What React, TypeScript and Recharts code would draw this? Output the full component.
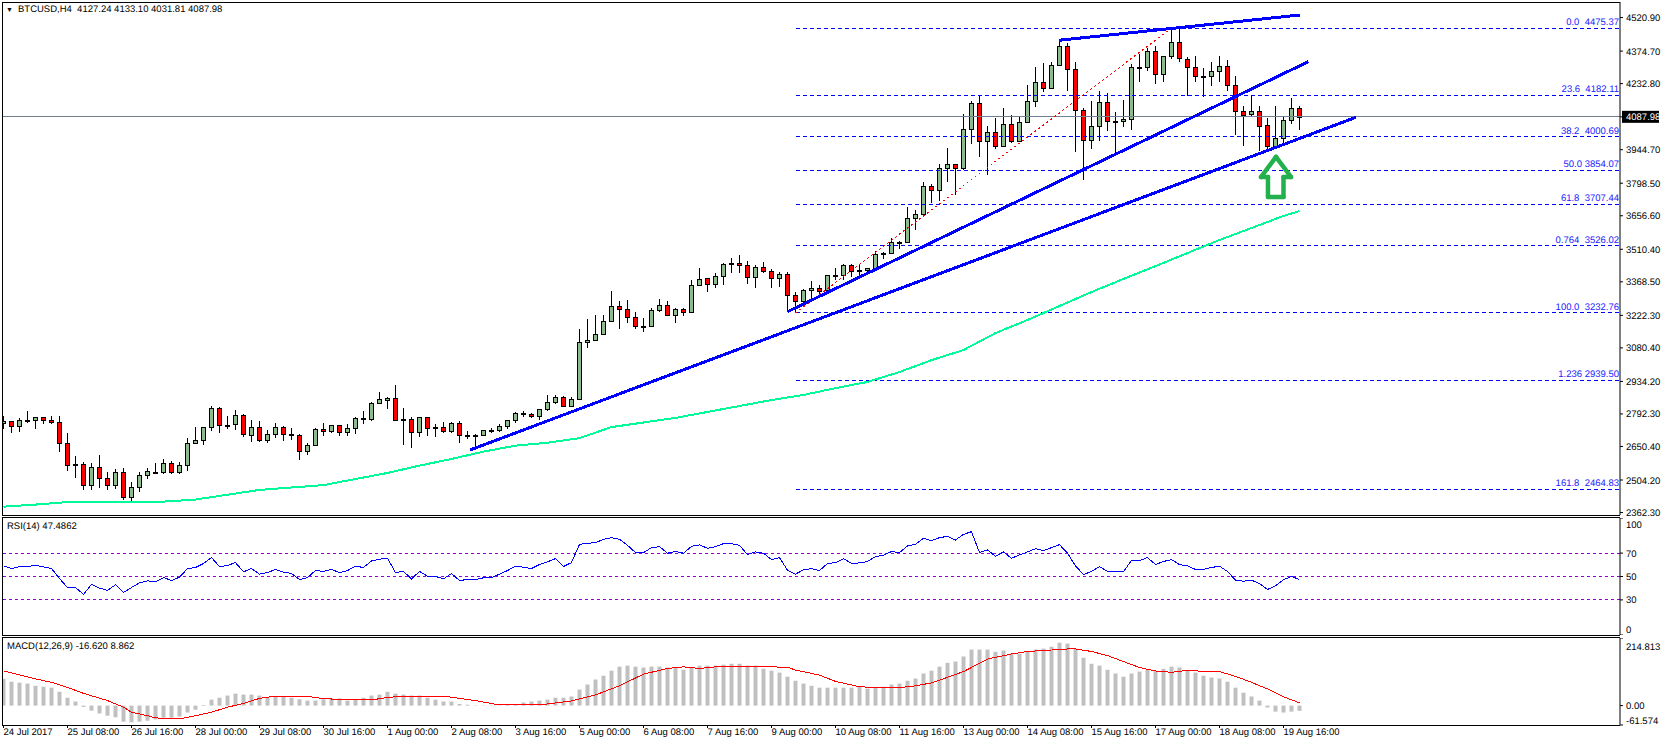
import React from "react";
import { ComposedChart, Bar, Line, XAxis, YAxis, ReferenceLine } from "recharts";

const FONT = "'Liberation Sans', Arial, sans-serif";
const FS = 9.5;

const opens = [
2751,2760,2738,2762,2764,2778,2764,2756,2664,2572,
2572,2481,2559,2511,2481,2538,2430,2472,2525,2541,
2538,2577,2538,2568,2664,2677,2734,2817,2745,2747,
2786,2699,2734,2677,2703,2734,2703,2699,2632,2655,
2725,2716,2743,2712,2729,2773,2769,2838,2852,2860,
2769,2769,2712,2778,2734,2734,2716,2751,2699,2699,
2699,2718,2721,2738,2764,2792,2791,2782,2812,2843,
2865,2825,2856,3105,3113,3140,3196,3262,3248,3214,
3174,3174,3244,3266,3222,3248,3235,3353,3384,3357,
3392,3449,3449,3440,3388,3432,3414,3384,3401,3310,
3283,3331,3340,3331,3397,3397,3440,3414,3418,3427,
3491,3493,3541,3541,3645,3663,3785,3770,3863,3881,
3863,4033,4147,3981,4020,3959,4055,3981,4064,4155,
4238,4212,4312,4395,4295,4116,3985,4046,4151,4068,
4068,4077,4304,4304,4373,4273,4352,4413,4342,4304,
4265,4265,4286,4308,4225,4112,4099,4112,4051,3959,
3994,4073,4127.24];

const highs = [
2783,2760,2773,2805,2778,2778,2783,2783,2708,2607,
2581,2577,2612,2538,2551,2555,2494,2538,2555,2577,
2594,2586,2581,2686,2734,2734,2825,2821,2783,2808,
2791,2764,2761,2721,2751,2738,2729,2703,2664,2729,
2751,2743,2743,2747,2778,2805,2843,2886,2865,2917,
2817,2778,2778,2778,2747,2757,2757,2760,2716,2703,
2721,2729,2747,2764,2799,2804,2795,2812,2873,2873,
2869,2865,3161,3205,3222,3222,3328,3283,3288,3235,
3209,3253,3292,3283,3253,3253,3375,3427,3384,3405,
3449,3472,3485,3458,3440,3453,3423,3410,3410,3323,
3336,3371,3353,3397,3427,3445,3445,3440,3430,3501,
3498,3560,3546,3693,3682,3802,3795,3881,3951,3881,
4099,4155,4182,4046,4083,4126,4094,4090,4227,4304,
4321,4326,4423,4410,4326,4125,4155,4199,4190,4109,
4160,4317,4362,4387,4395,4352,4467,4475,4347,4352,
4299,4326,4352,4334,4265,4134,4180,4134,4083,4134,
4089,4169,4133.10];

const lows = [
2728,2711,2715,2754,2728,2750,2750,2628,2545,2514,
2461,2461,2471,2461,2466,2417,2413,2452,2508,2533,
2529,2529,2529,2545,2660,2658,2719,2711,2728,2724,
2693,2671,2668,2667,2689,2676,2680,2593,2615,2654,
2697,2711,2697,2697,2706,2750,2761,2834,2814,2764,
2658,2645,2693,2697,2693,2711,2708,2667,2682,2641,
2699,2708,2715,2725,2751,2777,2773,2764,2804,2834,
2825,2825,2852,3081,3113,3135,3196,3164,3187,3161,
3151,3174,3238,3218,3190,3221,3235,3353,3324,3341,
3356,3408,3408,3359,3341,3405,3341,3347,3238,3234,
3279,3295,3310,3327,3376,3378,3388,3391,3413,3420,
3469,3490,3513,3536,3594,3653,3711,3721,3805,3747,
3855,3969,3914,3836,3946,3959,3972,3981,4064,4132,
4198,4208,4312,4200,3936,3812,3949,3982,4026,3929,
4044,4030,4241,4286,4232,4241,4341,4328,4177,4241,
4176,4224,4241,4202,4010,3962,4090,3939,3943,3951,
3969,4057,4031.81];

const closes = [
2760,2738,2764,2764,2778,2764,2756,2664,2568,2568,
2481,2559,2511,2481,2538,2430,2472,2525,2542,2538,
2577,2538,2568,2664,2677,2734,2817,2743,2743,2786,
2703,2734,2677,2703,2734,2703,2699,2632,2655,2725,
2716,2743,2712,2729,2773,2769,2838,2856,2860,2764,
2764,2712,2778,2729,2729,2716,2751,2699,2696,2696,
2721,2721,2738,2764,2795,2795,2782,2812,2843,2865,
2825,2856,3105,3113,3140,3196,3262,3248,3214,3174,
3173,3244,3266,3222,3248,3235,3353,3379,3357,3392,
3445,3446,3440,3388,3432,3414,3384,3401,3310,3283,
3331,3340,3327,3397,3400,3440,3414,3418,3427,3488,
3493,3541,3543,3645,3663,3785,3770,3863,3881,3863,
4033,4147,3981,4020,3959,4055,3981,4064,4155,4238,
4212,4312,4395,4295,4116,3985,4046,4151,4068,4065,
4077,4304,4301,4373,4273,4352,4413,4343,4304,4265,
4262,4286,4308,4225,4112,4094,4112,4046,3959,3994,
4073,4127,4087.98];

const maIndex = [0,4,8,16,20,24,32,40,48,52,56,60,64,68,72,76,80,84,88,92,96,100,104,108,112,116,120,124,128,132,136,140,144,148,152,156,160,162];
const maValues = [2388,2397,2408,2410,2410,2419,2461,2482,2535,2567,2596,2628,2654,2667,2687,2735,2755,2775,2801,2827,2853,2875,2905,2932,2975,3027,3071,3145,3202,3263,3324,3381,3437,3494,3551,3603,3656,3677];

const rsiValues = [
59.1,56.8,58.5,58.5,59.6,58.2,56.8,48.3,40.6,40.6,
34.7,43.2,40.1,38.1,42.9,36.4,40.6,44.6,46.3,45.5,
49.1,46.6,49.4,56.8,57.7,61.1,66.2,58.5,59.4,61.9,
54,56.8,52,53.4,56,53.7,52.6,47.4,49.1,55.1,
54.3,56,53.4,55.1,58.8,57.7,63.3,64.8,65.6,53.4,
54.3,48,54.3,50.3,50,48,52.6,46.6,47.4,47.4,
48.9,49.1,52,55.1,58.8,57.9,56.8,60.2,62.5,65.3,
58.5,61.9,77.5,78.4,78.9,81.8,83.2,81.8,76.7,70.4,
70.4,74.7,75.5,69.9,71.3,69.9,75.8,77,74.1,75.5,
78.1,78.1,76.7,68.7,71,69.9,64.5,66.2,55.4,52,
55.7,56.8,55.1,61.1,61.9,65.3,61.1,61.6,62.8,67,
68.2,71.3,70.4,76.1,77.5,82.6,80.6,83.2,84.3,81.2,
86,88.3,70.4,72.7,67.3,71,65.6,68.4,71,73.8,
72.1,74.7,77.2,69.9,59.1,51.7,54.3,58.5,54.3,54.3,
54.3,63.6,63.6,66.2,60.2,62.8,64.5,60.2,59.1,56,
56,57.7,58.8,54.3,46.9,46,46.9,44,38.9,42.1,
47.2,50,47.4862];

const macdHist = [
85,76,73,70,63,60,57,44,25,13,
-4,-16,-25,-32,-37,-51,-53,-51,-48,-44,
-38,-38,-35,-22,-13,2,19,25,32,38,
35,35,32,26,28,28,25,20,16,16,
20,23,23,16,21,25,32,35,44,38,
35,32,32,25,19,13,13,5,3,-1,
-1,-1,1,3,5,10,13,16,19,25,
25,29,51,67,83,95,111,124,127,124,
121,124,124,121,121,114,121,127,127,127,
130,133,133,127,127,117,111,105,92,79,
70,63,57,57,57,57,57,60,54,57,
60,67,70,79,86,102,111,124,136,140,
156,178,178,178,171,175,165,165,171,178,
181,187,200,197,181,152,133,127,114,102,
92,102,108,114,111,117,124,121,111,105,
95,89,86,76,57,41,29,16,-6,-19,
-22,-19,-16.62];

const signalIndex = [0,4,6,8,10,13,15,16,18,19,22,24,26,28,30,32,34,38,39,41,43,46,48,50,55,57,59,62,67,71,74,77,80,83,85,87,89,96,98,99,102,104,107,110,112,114,116,118,120,123,126,128,130,133,134,136,138,140,142,144,146,148,150,152,154,156,158,160,162];
const signalValues = [110,85,74,58,39,16,-5,-21,-32,-39,-42,-32,-21,-5,7,23,30,30,25,21,18,18,26,30,30,23,16,2,2,15,34,63,100,118,123,118,123,123,122,113,97,77,60,56,57,63,72,90,108,148,164,172,175,180,180,172,159,140,121,110,106,112,109,108,93,74,53,28,8.862];

const priceTicks = [4520.9,4374.7,4232.8,4087.98,3944.7,3798.5,3656.6,3510.4,3368.5,3222.3,3080.4,2934.2,2792.3,2650.4,2504.2,2362.3];
const rsiTicks = [100,70,50,30,0];
const rsiLevels = [70,50,30];
const macdTicks = [214.813,0,-61.574];
const dateIndex = [0,8,16,24,32,40,48,56,64,72,80,88,96,104,112,120,128,136,144,152,160];
const dateLabels = ["24 Jul 2017","25 Jul 08:00","26 Jul 16:00","28 Jul 00:00","29 Jul 08:00","30 Jul 16:00","1 Aug 00:00","2 Aug 08:00","3 Aug 16:00","5 Aug 00:00","6 Aug 08:00","7 Aug 16:00","9 Aug 00:00","10 Aug 08:00","11 Aug 16:00","13 Aug 00:00","14 Aug 08:00","15 Aug 16:00","17 Aug 00:00","18 Aug 08:00","19 Aug 16:00"];

const fibPrices = [4475.37,4182.11,4000.69,3854.07,3707.44,3526.02,3232.76,2939.5,2464.83];
const fibLabels = ["0.0\u00a0\u00a04475.37","23.6\u00a0\u00a04182.11","38.2\u00a0\u00a04000.69","50.0 3854.07","61.8\u00a0\u00a03707.44","0.764\u00a0\u00a03526.02","100.0\u00a0\u00a03232.76","1.236 2939.50","161.8\u00a0\u00a02464.83"];

const lastClose = 4087.98;
const xMin = -0.1875;
const xMax = 202.0625;
const fibStart = 99;
const trendStartIdx = [58.31,97.98,131.9];
const trendStartPrice = [2635,3238,4421.8];
const trendEndIdx = [169.06,163.1,162.06];
const trendEndPrice = [4086,4328.4,4532.1];
const fibRayIdx = [99,146];
const fibRayPrice = [3232.76,4475.37];
const arrowIdx = [159.06,160.94,160,160,158.06,158.06,157.19,159.06];
const arrowPrice = [3913,3825.6,3825.6,3738,3738,3825.6,3825.6,3913];

const rows = opens.map((o, i) => ({ idx: i, o, h: highs[i], l: lows[i], c: closes[i], ma: null as number | null, rsi: rsiValues[i], hist: macdHist[i], sig: null as number | null }));
maIndex.forEach((ix, k) => { rows[ix].ma = maValues[k]; });
signalIndex.forEach((ix, k) => { rows[ix].sig = signalValues[k]; });

const Candle = (p: any) => {
  const { x, y, width, height, payload } = p;
  const span = payload.h - payload.l;
  const k = height / span;
  const top = y + (payload.h - Math.max(payload.o, payload.c)) * k;
  const bot = y + (payload.h - Math.min(payload.o, payload.c)) * k;
  const cx = Math.floor(x + width / 2) + 0.5;
  const fill = payload.c > payload.o ? "#8FBC8F" : "#FF0000";
  const t = Math.round(top) + 0.5;
  const b = Math.round(bot) + 0.5;
  return (
    <g shapeRendering="crispEdges">
      <line x1={cx} x2={cx} y1={y} y2={y + height} stroke="#000" strokeWidth={1} />
      {b - t < 2
        ? <rect x={cx - 2.5} y={t - 0.5} width={5} height={1.5} fill="#000" />
        : <rect x={cx - 2} y={t} width={4} height={b - t} fill={fill} stroke="#000" strokeWidth={1} />}
    </g>
  );
};

const PriceTick = (p: any) => {
  const { x, y, payload } = p;
  const isLast = payload.value === lastClose;
  return (
    <g>
      {isLast && <rect x={x - 4} y={y - 6} width={37} height={12} fill="#000" />}
      <text x={x} y={y} dy={3.5} fontFamily={FONT} fontSize={FS} fill={isLast ? "#fff" : "#000"}>{payload.value.toFixed(2)}</text>
    </g>
  );
};
const RsiTick = (p: any) => {
  const { x, y, payload } = p;
  const shift = payload.value === 100 ? 6 : payload.value === 0 ? -6 : 0;
  return <text x={x} y={y + shift} dy={3.5} fontFamily={FONT} fontSize={FS} fill="#000">{payload.value}</text>;
};
const MacdTick = (p: any) => {
  const { x, y, payload } = p;
  const shift = payload.value > 100 ? 8 : payload.value < -10 ? -5 : 0;
  const label = payload.value === 0 ? "0.00" : payload.value.toFixed(3);
  return <text x={x} y={y + shift} dy={3.5} fontFamily={FONT} fontSize={FS} fill="#000">{label}</text>;
};
const DateTick = (p: any) => {
  const { x, y, index } = p;
  return <text x={x} y={y} dy={4} fontFamily={FONT} fontSize={FS} fill="#000">{dateLabels[index]}</text>;
};
const FibLabel = (p: any) => {
  const { viewBox, text } = p;
  return (
    <text x={viewBox.x + viewBox.width - 1} y={viewBox.y - 3} textAnchor="end" fontFamily={FONT} fontSize={FS} fill="#1A1AFF">{text}</text>
  );
};

const paneBox = (top: number, height: number): React.CSSProperties => ({
  position: "absolute", left: 2, top, width: 1618, height, boxSizing: "border-box",
  border: "1px solid #000", borderRight: "none", pointerEvents: "none",
});
const caption = (top: number, left: number): React.CSSProperties => ({
  position: "absolute", left, top, fontFamily: FONT, fontSize: FS, lineHeight: "12px", color: "#000", whiteSpace: "pre",
});

const xAxisHidden = <XAxis dataKey="idx" type="number" domain={[xMin, xMax]} allowDataOverflow hide />;
const seg = (x1: number, y1: number, x2: number, y2: number) => [{ x: x1, y: y1 }, { x: x2, y: y2 }] as any;

export default function App() {
  return (
    <div style={{ position: "absolute", left: 0, top: 0, width: 1663, height: 746, background: "#fff", overflow: "hidden", textRendering: "geometricPrecision" }}>
      <div style={{ position: "absolute", left: 0, top: 2 }}>
        <ComposedChart width={1663} height={519} data={rows} margin={{ top: 0, right: 0, bottom: 6, left: 2 }}>
          {xAxisHidden}
          <YAxis orientation="right" width={43} type="number" domain={[2351.6, 4588.8]} allowDataOverflow ticks={priceTicks} interval={0} tick={<PriceTick />} tickSize={3} tickMargin={3} axisLine={{ stroke: "#000" }} tickLine={{ stroke: "#000" }} />
          <ReferenceLine y={lastClose} stroke="#708090" strokeWidth={1} shapeRendering="crispEdges" />
          {fibPrices.map((v, i) => (
            <ReferenceLine key={v} segment={seg(fibStart, v, xMax, v)} stroke="#0000FF" strokeWidth={1} strokeDasharray="4 3" shapeRendering="crispEdges"
              label={<FibLabel text={fibLabels[i]} />} />
          ))}
          <ReferenceLine segment={seg(fibRayIdx[0], fibRayPrice[0], fibRayIdx[1], fibRayPrice[1])} stroke="#FF0000" strokeWidth={1} strokeDasharray="2 3" shapeRendering="crispEdges" />
          <Line dataKey="ma" stroke="#00FA9A" strokeWidth={2} dot={false} connectNulls isAnimationActive={false} shapeRendering="crispEdges" />
          <Bar dataKey={(d: any) => [d.l, d.h]} barSize={5} shape={<Candle />} isAnimationActive={false} />
          {trendStartIdx.map((x, i) => (
            <ReferenceLine key={x} segment={seg(x, trendStartPrice[i], trendEndIdx[i], trendEndPrice[i])} stroke="#0000FF" strokeWidth={3} shapeRendering="crispEdges" />
          ))}
          {arrowIdx.slice(0, -1).map((x, i) => (
            <ReferenceLine key={i} segment={seg(x, arrowPrice[i], arrowIdx[i + 1], arrowPrice[i + 1])} stroke="#22B14C" strokeWidth={4.5} strokeLinecap="round" />
          ))}
        </ComposedChart>
      </div>
      <div style={{ position: "absolute", left: 0, top: 518 }}>
        <ComposedChart width={1663} height={117} data={rows} margin={{ top: 0, right: 0, bottom: 0, left: 2 }}>
          {xAxisHidden}
          <YAxis orientation="right" width={43} type="number" domain={[0, 100]} ticks={rsiTicks} interval={0} tick={<RsiTick />} tickSize={3} tickMargin={3} axisLine={{ stroke: "#000" }} tickLine={{ stroke: "#000" }} />
          {rsiLevels.map((v) => (
            <ReferenceLine key={v} y={v} stroke="#9400D3" strokeWidth={1} strokeDasharray="3 3" shapeRendering="crispEdges" />
          ))}
          <Line dataKey="rsi" stroke="#0000FF" strokeWidth={1} dot={false} isAnimationActive={false} shapeRendering="crispEdges" />
        </ComposedChart>
      </div>
      <div style={{ position: "absolute", left: 0, top: 638 }}>
        <ComposedChart width={1663} height={108} data={rows} margin={{ top: 0, right: 0, bottom: 0, left: 2 }}>
          <XAxis dataKey="idx" type="number" domain={[xMin, xMax]} allowDataOverflow ticks={dateIndex} interval={0} tick={<DateTick />} height={21} tickSize={3} tickMargin={3} axisLine={false} tickLine={{ stroke: "#000" }} />
          <YAxis orientation="right" width={43} type="number" domain={[-61.574, 214.813]} allowDataOverflow ticks={macdTicks} interval={0} tick={<MacdTick />} tickSize={3} tickMargin={3} axisLine={{ stroke: "#000" }} tickLine={{ stroke: "#000" }} />
          <Bar dataKey="hist" barSize={4} fill="#C0C0C0" isAnimationActive={false} />
          <Line dataKey="sig" stroke="#FF0000" strokeWidth={1} dot={false} connectNulls isAnimationActive={false} shapeRendering="crispEdges" />
        </ComposedChart>
      </div>
      <div style={paneBox(2, 514)} />
      <div style={paneBox(517, 119)} />
      <div style={paneBox(637, 89)} />
      <div style={caption(4, 6)}><span style={{ fontSize: 7 }}>▼</span></div>
      <div style={caption(4, 18)}>BTCUSD,H4  4127.24 4133.10 4031.81 4087.98</div>
      <div style={caption(521, 7)}>RSI(14) 47.4862</div>
      <div style={caption(641, 7)}>MACD(12,26,9) -16.620 8.862</div>
    </div>
  );
}
